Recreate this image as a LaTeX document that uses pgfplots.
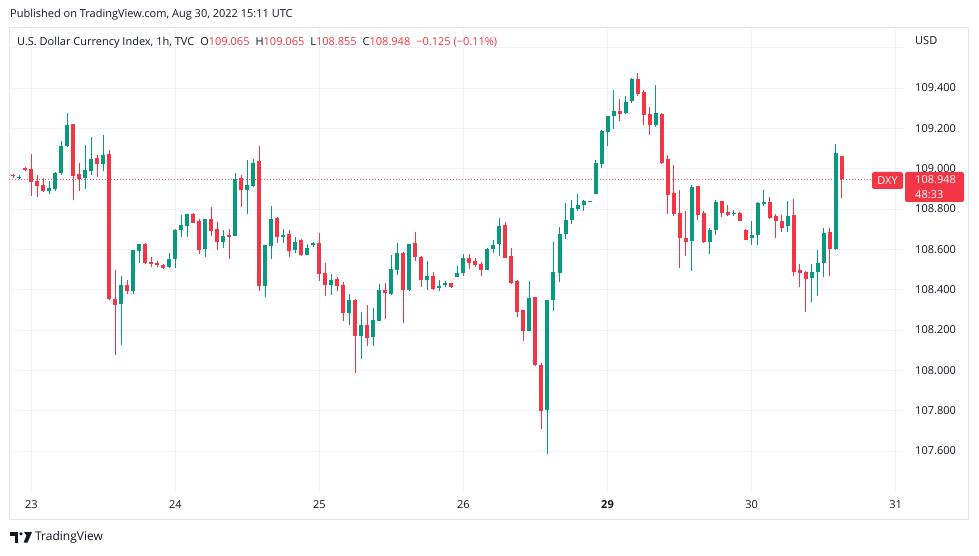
\documentclass[border=0pt]{standalone}
\usepackage{pgfplots}
\pgfplotsset{compat=1.18}
\usepackage{pgfplotstable}
\usepackage{fontspec}
\setmainfont{Open Sans}
\definecolor{tvred}{HTML}{F23645}
\definecolor{tvgreen}{HTML}{089981}
\definecolor{gridc}{HTML}{F0F3FA}
\definecolor{framec}{HTML}{E0E3EB}
\definecolor{txt}{HTML}{131722}

\pgfplotstableread{
x o h l c
-3 108.968 108.975 108.955 108.962
-1 109.005 109.008 108.987 108.992
0 109.000 109.075 108.867 108.933
1 108.938 108.970 108.862 108.912
2 108.920 108.955 108.883 108.892
7 109.220 109.222 108.845 108.962
8 108.972 109.028 108.892 108.950
11 109.055 109.067 108.958 109.022
13 109.075 109.092 108.350 108.353
14 108.353 108.500 108.078 108.322
16 108.425 108.450 108.378 108.392
19 108.625 108.630 108.530 108.533
20 108.540 108.562 108.512 108.527
21 108.533 108.542 108.512 108.522
22 108.525 108.527 108.505 108.507
27 108.775 108.780 108.730 108.733
28 108.742 108.750 108.575 108.597
30 108.750 108.808 108.667 108.692
31 108.700 108.737 108.595 108.637
33 108.670 108.700 108.553 108.662
35 108.953 108.967 108.808 108.897
38 109.037 109.113 108.392 108.417
41 108.755 108.763 108.633 108.663
43 108.678 108.695 108.562 108.592
45 108.645 108.653 108.567 108.570
48 108.633 108.683 108.442 108.478
49 108.483 108.533 108.367 108.422
51 108.455 108.463 108.392 108.417
52 108.425 108.437 108.247 108.287
54 108.347 108.355 107.987 108.170
56 108.223 108.325 108.120 108.162
59 108.400 108.433 108.255 108.383
62 108.583 108.587 108.233 108.397
64 108.630 108.688 108.542 108.562
65 108.563 108.565 108.412 108.450
67 108.470 108.488 108.400 108.402
70 108.433 108.435 108.408 108.415
73 108.558 108.575 108.503 108.533
74 108.542 108.558 108.515 108.523
75 108.528 108.540 108.470 108.500
79 108.723 108.737 108.555 108.557
80 108.565 108.608 108.428 108.433
81 108.445 108.448 108.265 108.290
82 108.298 108.300 108.145 108.195
84 108.362 108.364 108.023 108.025
85 108.028 108.037 107.708 107.800
98 109.286 109.345 109.236 109.273
101 109.443 109.474 109.362 109.372
102 109.380 109.392 109.215 109.268
103 109.273 109.306 109.165 109.215
105 109.273 109.275 109.025 109.030
106 109.047 109.067 108.775 108.872
107 108.880 109.017 108.767 108.778
108 108.780 108.895 108.508 108.655
109 108.658 108.792 108.567 108.637
111 108.913 108.915 108.745 108.772
112 108.780 108.788 108.633 108.638
115 108.838 108.842 108.762 108.783
116 108.787 108.820 108.767 108.772
118 108.783 108.787 108.740 108.742
119 108.695 108.703 108.645 108.647
123 108.837 108.858 108.750 108.758
124 108.767 108.778 108.658 108.742
125 108.742 108.773 108.687 108.708
127 108.773 108.848 108.470 108.490
128 108.498 108.528 108.412 108.483
129 108.490 108.492 108.290 108.453
133 108.687 108.708 108.467 108.600
135 109.065 109.065 108.855 108.948
}\reddata

\pgfplotstableread{
x o h l c
-2 108.955 108.970 108.948 108.960
3 108.892 108.938 108.875 108.905
4 108.900 108.983 108.892 108.980
5 108.980 109.137 108.967 109.112
6 109.112 109.275 109.108 109.215
9 108.955 109.120 108.900 108.995
10 108.987 109.158 108.967 109.050
12 109.025 109.165 108.987 109.070
15 108.328 108.467 108.125 108.425
17 108.392 108.597 108.380 108.595
18 108.592 108.628 108.533 108.625
23 108.512 108.583 108.510 108.553
24 108.553 108.700 108.508 108.697
25 108.697 108.770 108.662 108.720
26 108.717 108.777 108.662 108.775
29 108.603 108.752 108.562 108.750
32 108.637 108.695 108.608 108.667
34 108.667 108.980 108.665 108.950
36 108.897 109.045 108.778 108.920
37 108.913 109.050 108.908 109.030
39 108.420 108.622 108.363 108.620
40 108.617 108.813 108.553 108.750
42 108.662 108.700 108.633 108.673
44 108.597 108.663 108.583 108.638
46 108.572 108.625 108.570 108.605
47 108.622 108.635 108.613 108.633
50 108.422 108.478 108.375 108.450
53 108.287 108.380 108.225 108.347
55 108.170 108.288 108.058 108.223
57 108.167 108.308 108.120 108.250
58 108.247 108.430 108.245 108.400
60 108.380 108.570 108.375 108.505
61 108.500 108.633 108.475 108.580
63 108.397 108.627 108.395 108.625
66 108.450 108.545 108.400 108.470
68 108.408 108.450 108.395 108.420
69 108.425 108.445 108.412 108.433
71 108.465 108.520 108.463 108.483
72 108.483 108.578 108.470 108.558
76 108.500 108.605 108.498 108.603
77 108.600 108.645 108.583 108.623
78 108.625 108.758 108.567 108.717
83 108.195 108.442 108.193 108.358
86 107.803 108.350 107.587 108.348
87 108.348 108.637 108.295 108.487
88 108.484 108.711 108.438 108.678
89 108.674 108.830 108.650 108.747
90 108.747 108.843 108.727 108.807
91 108.802 108.876 108.788 108.822
92 108.818 108.843 108.788 108.838
93 108.835 108.840 108.833 108.840
94 108.876 109.041 108.874 109.030
95 109.025 109.190 109.003 109.185
96 109.182 109.262 109.111 109.260
97 109.260 109.392 109.198 109.286
99 109.276 109.360 109.269 109.331
100 109.334 109.450 109.326 109.443
104 109.218 109.413 109.207 109.278
110 108.642 108.920 108.495 108.908
113 108.638 108.708 108.578 108.695
114 108.697 108.847 108.672 108.837
117 108.778 108.795 108.767 108.783
120 108.658 108.742 108.620 108.670
121 108.670 108.837 108.620 108.828
122 108.823 108.895 108.817 108.833
126 108.715 108.840 108.687 108.767
130 108.457 108.528 108.337 108.490
131 108.490 108.595 108.370 108.533
132 108.533 108.707 108.462 108.683
134 108.600 109.123 108.598 109.078
}\greendata

\begin{document}
\begin{tikzpicture}[x=1pt,y=1pt]
\useasboundingbox (0,0) rectangle (979,555);
\fill[white] (0,0) rectangle (979,555);
\draw[framec, line width=1pt] (9,36) rectangle (968,527);
\begin{axis}[
  at={(9pt,63pt)}, anchor=south west,
  scale only axis, width=895pt, height=463pt,
  xmin=-3.72, xmax=145.4, ymin=107.397, ymax=109.693,
  axis line style={draw=none},
  xtick={0,24,48,72,96,120,144},
  xticklabels={23,24,25,26,\textbf{29},30,31},
  ytick={107.6,107.8,108.0,108.2,108.4,108.6,108.8,109.0,109.2,109.4,109.6},
  yticklabels={107.600,107.800,108.000,108.200,108.400,108.600,108.800,109.000,109.200,109.400,{}},
  yticklabel pos=right,
  major tick length=0pt,
  grid=major, grid style={color=gridc, line width=0.8pt},
  xticklabel style={anchor=center, yshift=-13pt, inner sep=0pt, font=\fontsize{11}{13}\selectfont, text=txt},
  yticklabel style={anchor=west, xshift=11pt, inner sep=0pt, font=\fontsize{11}{13}\selectfont, text=txt},
  clip=false,
]
\addplot[color=tvred!85, line width=1pt, dash pattern=on 1pt off 2pt] coordinates {(-3.72,108.948) (140,108.948)};
% wicks
\addplot[draw=none, mark=none, error bars/.cd, y dir=plus, y explicit, error mark=none, error bar style={line width=1pt, draw=tvred}]
  table[x=x, y=l, y error plus expr=\thisrow{h}-\thisrow{l}] {\reddata};
\addplot[draw=none, mark=none, error bars/.cd, y dir=plus, y explicit, error mark=none, error bar style={line width=1pt, draw=tvgreen}]
  table[x=x, y=l, y error plus expr=\thisrow{h}-\thisrow{l}] {\greendata};
% bodies
\addplot[draw=none, mark=none, error bars/.cd, y dir=plus, y explicit, error mark=none, error bar style={line width=4pt, draw=tvred}]
  table[x=x, y=c, y error plus expr=\thisrow{o}-\thisrow{c}] {\reddata};
\addplot[draw=none, mark=none, error bars/.cd, y dir=plus, y explicit, error mark=none, error bar style={line width=4pt, draw=tvgreen}]
  table[x=x, y=o, y error plus expr=\thisrow{c}-\thisrow{o}] {\greendata};
\end{axis}
% header texts
\node[anchor=west, inner sep=0pt, font=\fontsize{11}{13}\selectfont, text=txt] at (10,540) {Published on TradingView.com, Aug 30, 2022 15:11 UTC};
\node[anchor=west, inner sep=0pt, font=\fontsize{11}{13}\selectfont, text=txt] at (17,512) {U.S. Dollar Currency Index, 1h, TVC\hspace{6pt}O\textcolor{tvred}{109.065}\hspace{6pt}H\textcolor{tvred}{109.065}\hspace{6pt}L\textcolor{tvred}{108.855}\hspace{6pt}C\textcolor{tvred}{108.948}\hspace{6pt}\textcolor{tvred}{−0.125 (−0.11\%)}};
\node[anchor=west, inner sep=0pt, font=\fontsize{11}{13}\selectfont, text=txt] at (915,514) {USD};
% price tags
\fill[tvred, rounded corners=2pt] (872,366) rectangle (903,383);
\node[text=white, inner sep=0pt, font=\fontsize{11}{13}\selectfont] at (887.5,374.5) {DXY};
\fill[tvred, rounded corners=2pt] (905,353) rectangle (964,383);
\node[anchor=west, text=white, inner sep=0pt, font=\fontsize{11}{13}\selectfont] at (915,375) {108.948};
\node[anchor=west, text=white, inner sep=0pt, font=\fontsize{11}{13}\selectfont] at (915,360.5) {48:33};
% logo
\fill[txt] (10,23) rectangle (18,19.5);
\fill[txt] (14.5,23) rectangle (18,12.3);
\fill[txt] (21,21.2) circle (1.8);
\fill[txt] (24,23) -- (32,23) -- (27.5,12.3) -- (23.5,12.3) -- (26.5,19.5) -- cycle;
\node[anchor=west, inner sep=0pt, font=\fontsize{12}{14}\selectfont, text=txt] at (35,17.5) {TradingView};
\end{tikzpicture}
\end{document}
